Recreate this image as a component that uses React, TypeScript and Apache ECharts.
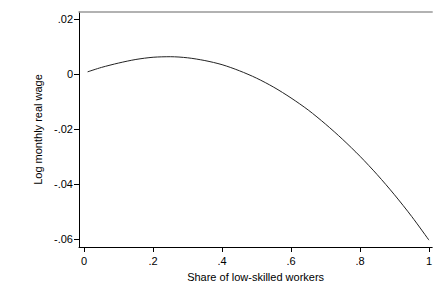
import React, { useEffect, useRef } from "react";
import * as echarts from "echarts";

const shareLowSkilled = [0.01, 0.05, 0.1, 0.15, 0.2, 0.25, 0.3, 0.35, 0.4, 0.45, 0.5, 0.55, 0.6, 0.65, 0.7, 0.75, 0.8, 0.85, 0.9, 0.95, 1.0];
const logWage = [0.0007, 0.0023, 0.0039, 0.0052, 0.006, 0.0062, 0.0058, 0.0048, 0.0033, 0.0011, -0.0016, -0.0049, -0.0088, -0.0132, -0.0183, -0.0239, -0.03, -0.0367, -0.044, -0.0519, -0.0605];
const xTicks = [0, 0.2, 0.4, 0.6, 0.8, 1];
const yTicks = [-0.06, -0.04, -0.02, 0, 0.02];

const fmt = (v: number) => {
  if (Math.abs(v) < 1e-9) return "0";
  if (Math.abs(v - 1) < 1e-9) return "1";
  const s = String(Math.round(v * 1000) / 1000);
  return s.replace(/^(-?)0\./, "$1.");
};

export default function App() {
  const ref = useRef<HTMLDivElement>(null);
  useEffect(() => {
    if (!ref.current) return;
    const chart = echarts.init(ref.current, undefined, { renderer: "svg" });
    const font = "'Liberation Sans', Arial, sans-serif";
    chart.setOption({
      animation: false,
      backgroundColor: "#fff",
      grid: { left: 79, right: 0, top: 12, bottom: 32, containLabel: false },
      xAxis: [
        {
          type: "value",
          min: -0.015,
          max: 1.0095,
          name: "Share of low-skilled workers",
          nameLocation: "middle",
          nameGap: 24,
          nameTextStyle: { fontFamily: font, fontSize: 11, color: "#000" },
          axisLine: { show: true, onZero: false, lineStyle: { color: "#000", width: 1 } },
          axisTick: { show: true, length: 5, customValues: xTicks, lineStyle: { color: "#000" } },
          axisLabel: { customValues: xTicks, formatter: fmt, fontFamily: font, fontSize: 11, color: "#000", margin: 8 },
          splitLine: { show: false },
        },
        {
          type: "value",
          position: "top",
          min: -0.015,
          max: 1.0095,
          axisLine: { show: true, onZero: false, lineStyle: { color: "#999", width: 1.5 } },
          axisTick: { show: false },
          axisLabel: { show: false },
          splitLine: { show: false },
        },
      ],
      yAxis: {
        type: "value",
        min: -0.063,
        max: 0.02246,
        name: "Log monthly real wage",
        nameLocation: "middle",
        nameGap: 34,
        nameTextStyle: { fontFamily: font, fontSize: 11, color: "#000" },
        axisLine: { show: true, onZero: false, lineStyle: { color: "#000", width: 1 } },
        axisTick: { show: true, length: 5, customValues: yTicks, lineStyle: { color: "#000" } },
        axisLabel: { customValues: yTicks, formatter: fmt, fontFamily: font, fontSize: 11, color: "#000", margin: 6 },
        splitLine: { show: false },
      },
      series: [
        {
          type: "line",
          data: shareLowSkilled.map((x, i) => [x, logWage[i]]),
          smooth: 0.3,
          showSymbol: false,
          lineStyle: { color: "#222", width: 1 },
        },
      ],
    });
    return () => chart.dispose();
  }, []);
  return <div ref={ref} style={{ width: 435, height: 287, position: "absolute", left: 0, top: 0 }} />;
}
